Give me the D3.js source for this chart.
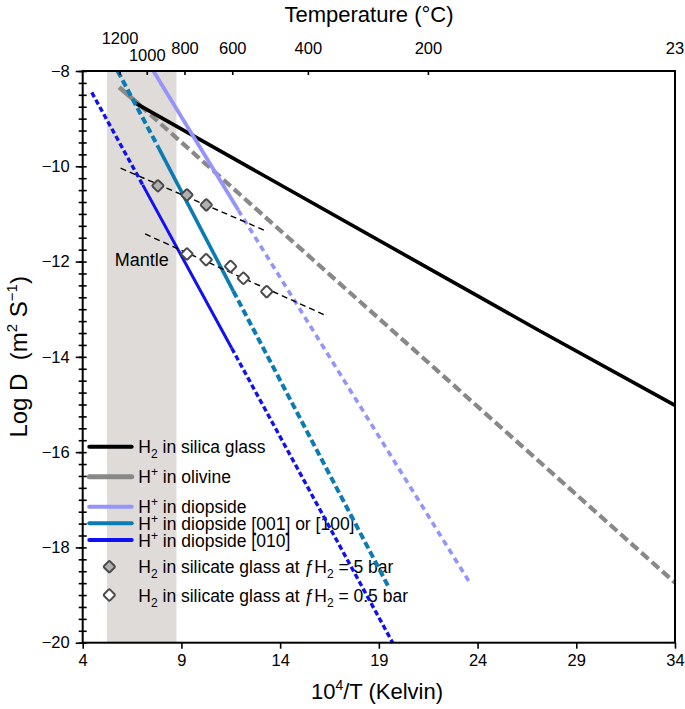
<!DOCTYPE html>
<html>
<head>
<meta charset="utf-8">
<script src="https://cdn.jsdelivr.net/npm/d3@7"></script>
<style>
  body { margin: 0; background: #fff; }
  text { font-family: "Liberation Sans", Arial, Helvetica, sans-serif; fill: #000; }
</style>
</head>
<body>
<svg id="chart" width="685" height="709"></svg>
<script>
// values: x = 10^4/T (K), y = log D
const silicaGlass = [[6.65, -8.67], [22.11, -12.28], [27.0, -13.42], [34, -15.02]];
const olivineSolid = [[5.85, -8.34], [6.9, -8.72]];
const olivineDashed = [[6.9, -8.72], [34, -18.74]];
const diopsideSolid = [[7.58, -8.0], [11.88, -10.92]];
const diopsideDashed = [[11.88, -10.92], [23.62, -18.75]];
const diop001Dashed = [[5.77, -8.0], [7.78, -9.56]];
const diop001Solid = [[7.78, -9.56], [11.63, -12.62]];
const diop001Dashed2 = [[11.63, -12.62], [19.48, -18.82]];
const diop010Dashed = [[4.46, -8.45], [7.04, -10.39]];
const diop010Solid = [[7.04, -10.39], [11.55, -13.82]];
const diop010Dashed2 = [[11.55, -13.82], [19.70, -20.0]];

const glass5bar = [[7.81, -10.41], [9.28, -10.60], [10.26, -10.81]];
const glass05bar = [[9.28, -11.84], [10.25, -11.96], [11.49, -12.10], [12.14, -12.35], [13.32, -12.63]];
const fit5bar = [[5.92, -10.04], [13.18, -11.34]];
const fit05bar = [[7.16, -11.42], [16.36, -13.14]];

const mantleRange = [5.23, 8.75];

const xTicks = [4, 9, 14, 19, 24, 29, 34];
const yMajorTicks = [-8, -10, -12, -14, -16, -18, -20];
const topTempLabels = ['1200', '1000', '800', '600', '400', '200', '23'];
const topTempPos = [5.89, 7.27, 9.18, 11.60, 15.43, 21.51, 34];

const legendLabels = [
  [['H'], ['2', 'sub'], [' in silica glass']],
  [['H'], ['+', 'sup'], [' in olivine']],
  [['H'], ['+', 'sup'], [' in diopside']],
  [['H'], ['+', 'sup'], [' in diopside [001] or [100]']],
  [['H'], ['+', 'sup'], [' in diopside [010]']],
  [['H'], ['2', 'sub'], [' in silicate glass at '], ['ƒ'], ['H'], ['2', 'sub'], [' = 5 bar']],
  [['H'], ['2', 'sub'], [' in silicate glass at '], ['ƒ'], ['H'], ['2', 'sub'], [' = 0.5 bar']]
];

// ---- layout
const svg = d3.select('#chart');
const plotL = 82.7, plotR = 675, plotT = 71, plotB = 642.7;

const x = d3.scaleLinear().domain([4, 34]).range([plotL, plotR]);
const y = d3.scaleLinear().domain([-8, -20]).range([plotT, plotB]);
const minusFmt = d => (d < 0 ? '\u2212' + Math.abs(d) : String(d));

// mantle band
svg.append('rect')
  .attr('x', x(mantleRange[0])).attr('y', plotT)
  .attr('width', x(mantleRange[1]) - x(mantleRange[0]))
  .attr('height', plotB - plotT)
  .attr('fill', '#dfdbd8');

svg.append('text')
  .attr('x', x((mantleRange[0] + mantleRange[1]) / 2)).attr('y', 266)
  .attr('text-anchor', 'middle').style('font-size', '18px')
  .text('Mantle');

// writes text parts with sub/superscripts, returning to the baseline after each
function richText(t, parts, small, up) {
  let shift = 0;
  parts.forEach(p => {
    const target = p[1] === 'sub' ? 5 : p[1] === 'sup' ? -(up || 7) : 0;
    const ts = t.append('tspan').text(p[0]);
    if (target !== shift) ts.attr('dy', target - shift);
    if (p[1]) ts.style('font-size', small);
    shift = target;
  });
}

// legend (lines and markers drawn under the data lines)
const legendY = [446.7, 476.7, 506.7, 523.3, 540, 566.7, 595];
const legendStyle = [
  { color: '#000', w: 4 },
  { color: '#888', w: 5 },
  { color: '#9494fa', w: 4 },
  { color: '#0b7bb4', w: 4 },
  { color: '#1010f0', w: 4 },
  { marker: 'filled' },
  { marker: 'open' }
];

function marker(g, cx, cy, kind) {
  g.append('rect')
    .attr('x', -4.3).attr('y', -4.3).attr('width', 8.6).attr('height', 8.6)
    .attr('rx', 1.4)
    .attr('transform', `translate(${cx},${cy}) rotate(45)`)
    .attr('fill', kind === 'filled' ? '#b0b0b0' : '#fff')
    .attr('stroke', '#4a4a4a').attr('stroke-width', 2);
}

const legend = svg.append('g');
legendLabels.forEach((parts, i) => {
  const st = legendStyle[i];
  const ly = legendY[i];
  if (st.marker) {
    marker(legend, 109.3, ly, st.marker);
  } else {
    legend.append('line')
      .attr('x1', 89.3).attr('x2', 131.7).attr('y1', ly).attr('y2', ly)
      .attr('stroke', st.color).attr('stroke-width', st.w).attr('stroke-linecap', 'round');
  }
  const t = legend.append('text')
    .attr('x', 138.3).attr('y', ly + 6.5)
    .style('font-size', '17.5px');
  richText(t, parts, '12px');
});

// ---- lines
const line = d3.line().x(d => x(d[0])).y(d => y(d[1]));
const dataLines = [
  { pts: olivineSolid, color: '#888', w: 4.5 },
  { pts: olivineDashed, color: '#888', w: 4.2, dash: '9.5,4.5' },
  { pts: silicaGlass, color: '#000', w: 3.6 },
  { pts: diopsideSolid, color: '#9494fa', w: 3.8 },
  { pts: diopsideDashed, color: '#9494fa', w: 3.6, dash: '6,4.5' },
  { pts: diop001Dashed, color: '#0b7bb4', w: 4, dash: '7,3.5' },
  { pts: diop001Solid, color: '#0b7bb4', w: 3.6 },
  { pts: diop001Dashed2, color: '#0b7bb4', w: 4, dash: '7,3.5' },
  { pts: diop010Dashed, color: '#1010f0', w: 3.4, dash: '5.3,3' },
  { pts: diop010Solid, color: '#1010f0', w: 3 },
  { pts: diop010Dashed2, color: '#1010f0', w: 3.4, dash: '5.3,3' }
];

svg.append('g').selectAll('path')
  .data(dataLines)
  .enter()
  .append('path')
  .attr('d', d => line(d.pts))
  .attr('fill', 'none')
  .attr('stroke', d => d.color)
  .attr('stroke-width', d => d.w)
  .attr('stroke-dasharray', d => d.dash || null);

// regression lines through the glass points
svg.append('g').selectAll('path')
  .data([fit5bar, fit05bar])
  .enter()
  .append('path')
  .attr('d', d => line(d))
  .attr('fill', 'none')
  .attr('stroke', '#000')
  .attr('stroke-width', 1.4)
  .attr('stroke-dasharray', '6,4');

const pts = svg.append('g');
glass5bar.forEach(d => marker(pts, x(d[0]), y(d[1]), 'filled'));
glass05bar.forEach(d => marker(pts, x(d[0]), y(d[1]), 'open'));

// ---- axes
const yMinor = d3.range(-20, -7.99, 0.25);
svg.append('g').attr('transform', `translate(${plotL},0)`)
  .call(d3.axisLeft(y).tickValues(yMinor).tickSize(4).tickFormat(''))
  .call(g => g.select('.domain').remove());
svg.append('g').attr('transform', `translate(${plotL},0)`)
  .call(d3.axisRight(y).tickValues(yMinor).tickSize(4).tickFormat(''))
  .call(g => g.select('.domain').remove());
svg.append('g').attr('transform', `translate(${plotL},0)`)
  .call(d3.axisLeft(y).tickValues(yMajorTicks).tickSize(7).tickPadding(6).tickFormat(minusFmt))
  .call(g => g.select('.domain').remove())
  .call(g => g.selectAll('text').style('font-size', '16.5px'));

svg.append('g').attr('transform', `translate(0,${plotB})`)
  .call(d3.axisBottom(x).tickValues(xTicks).tickSize(6).tickPadding(6).tickFormat(minusFmt))
  .call(g => g.select('.domain').remove())
  .call(g => g.selectAll('text').style('font-size', '16.5px'));

svg.selectAll('.tick line').attr('stroke', '#000').attr('stroke-width', 1.6);

// top temperature axis (ticks inward)
const topG = svg.append('g');
topTempPos.forEach((p, i) => {
  topG.append('line')
    .attr('x1', x(p)).attr('x2', x(p)).attr('y1', plotT).attr('y2', plotT + 4)
    .attr('stroke', '#000').attr('stroke-width', 1.6);
  const lab = topTempLabels[i];
  const by = lab === '1200' ? 44 : lab === '1000' ? 61 : 54;
  topG.append('text')
    .attr('x', x(p)).attr('y', by)
    .attr('text-anchor', 'middle').style('font-size', '16.5px')
    .text(lab);
});

// frame
svg.append('rect')
  .attr('x', plotL).attr('y', plotT)
  .attr('width', plotR - plotL).attr('height', plotB - plotT)
  .attr('fill', 'none').attr('stroke', '#000').attr('stroke-width', 2);

// titles
svg.append('text')
  .attr('x', 369).attr('y', 22).attr('text-anchor', 'middle')
  .style('font-size', '22px')
  .text('Temperature (°C)');

const xt = svg.append('text')
  .attr('x', 377).attr('y', 699).attr('text-anchor', 'middle')
  .style('font-size', '22px');
richText(xt, [['10'], ['4', 'sup'], ['/T (Kelvin)']], '14px', 9);

const yt = svg.append('text')
  .attr('transform', `translate(27,${(plotT + plotB) / 2}) rotate(-90)`)
  .attr('text-anchor', 'middle')
  .style('font-size', '24px');
richText(yt, [['Log D\u00a0\u00a0(m'], ['2', 'sup'], ['\u00a0S'], ['\u22121', 'sup'], [')']], '15px', 10);
</script>
</body>
</html>
